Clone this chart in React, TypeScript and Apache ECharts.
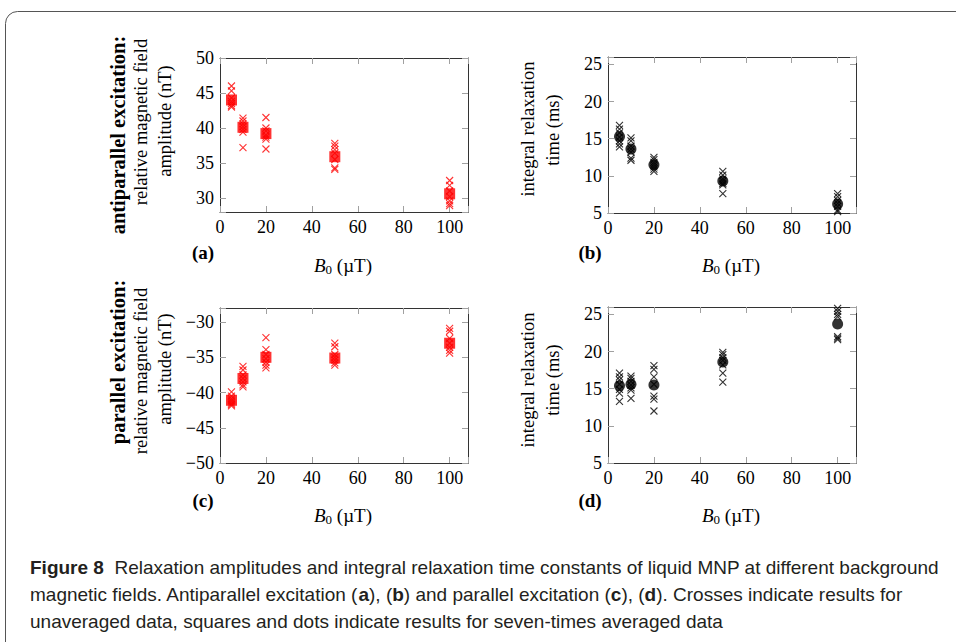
import React, { useEffect, useRef } from "react";
import * as echarts from "echarts";

// ---------------- data ----------------
const B0 = [5, 10, 20, 50, 100];

// (a) antiparallel excitation: amplitude (nT)
const ampAntiAvg = [44.0, 40.1, 39.2, 35.9, 30.6];
const ampAntiRaw = [
  [46.0, 45.3, 44.3, 43.8, 43.5, 43.2, 43.0],
  [41.4, 41.0, 40.6, 40.2, 39.8, 39.4, 37.2],
  [41.5, 40.0, 39.6, 39.0, 38.7, 38.4, 37.0],
  [37.8, 37.4, 36.9, 36.4, 35.5, 34.3, 34.1],
  [32.5, 31.8, 31.0, 30.2, 29.6, 29.2, 28.9],
];

// (b) antiparallel excitation: integral relaxation time (ms)
const tauAntiAvg = [15.3, 13.6, 11.5, 9.3, 6.2];
const tauAntiRaw = [
  [16.8, 16.3, 15.8, 15.2, 14.7, 14.3, 13.9],
  [15.1, 14.7, 14.0, 13.6, 13.2, 12.4, 12.1],
  [12.5, 12.2, 11.8, 11.5, 11.2, 10.9, 10.6],
  [10.6, 10.1, 9.6, 9.3, 9.0, 8.8, 7.6],
  [7.6, 7.2, 6.7, 6.3, 5.9, 5.4, 5.2],
];

// (c) parallel excitation: amplitude (nT)
const ampParAvg = [-41.1, -38.0, -35.0, -35.1, -33.0];
const ampParRaw = [
  [-39.9, -40.5, -40.9, -41.2, -41.5, -41.7, -41.9],
  [-36.3, -36.8, -37.5, -38.0, -38.5, -38.9, -39.2],
  [-32.2, -33.9, -34.6, -35.2, -35.7, -36.1, -36.5],
  [-33.0, -33.5, -34.6, -35.0, -35.4, -35.8, -36.1],
  [-30.9, -31.3, -32.3, -33.0, -33.6, -34.0, -34.4],
];

// (d) parallel excitation: integral relaxation time (ms)
const tauParAvg = [15.4, 15.6, 15.5, 18.6, 23.7];
const tauParRaw = [
  [17.1, 16.6, 16.2, 15.6, 14.9, 14.4, 13.3],
  [16.7, 16.4, 16.0, 15.5, 15.1, 14.8, 13.7],
  [18.1, 17.6, 16.6, 15.6, 14.0, 13.6, 12.0],
  [19.9, 19.6, 19.2, 18.8, 18.2, 17.1, 15.9],
  [25.8, 25.4, 25.0, 24.7, 22.0, 21.8, 21.6],
];

const xRange = [0, 108];
const xStep = 20;
const yRangeA = [28, 50];
const yRangeB = [5, 26];
const yRangeC = [-50, -28];
const yRangeD = [5, 26];
const yStep = 5;

const captionLines = [
  "{b|Figure 8}  Relaxation amplitudes and integral relaxation time constants of liquid MNP at different background",
  "magnetic fields. Antiparallel excitation ({b|a}), ({b|b}) and parallel excitation ({b|c}), ({b|d}). Crosses indicate results for",
  "unaveraged data, squares and dots indicate results for seven-times averaged data",
];

// ---------------- styling ----------------
const SERIF = "'Liberation Serif', 'Times New Roman', serif";
const SANS = "'Liberation Sans', Arial, sans-serif";
const RED = "#ff0000";
const BLACK = "#000000";
const CROSS = "path://M0,0L10,10M10,0L0,10";

const panels = [
  { grid: { left: 220, top: 58, width: 248, height: 154 }, y: yRangeA, raw: ampAntiRaw, avg: ampAntiAvg, color: RED, avgSymbol: "rect", avgSize: 11 },
  { grid: { left: 608, top: 57, width: 248, height: 156 }, y: yRangeB, raw: tauAntiRaw, avg: tauAntiAvg, color: BLACK, avgSymbol: "circle", avgSize: 11 },
  { grid: { left: 220, top: 308, width: 248, height: 155 }, y: yRangeC, raw: ampParRaw, avg: ampParAvg, color: RED, avgSymbol: "rect", avgSize: 11 },
  { grid: { left: 608, top: 307, width: 248, height: 156 }, y: yRangeD, raw: tauParRaw, avg: tauParAvg, color: BLACK, avgSymbol: "circle", avgSize: 11 },
];

const fmtNum = (v: number) => (v < 0 ? "\u2212" + Math.abs(v) : String(v));

function buildOption() {
  const axisLine = { show: true, onZero: false, lineStyle: { color: "#333", width: 1 } };
  const axisTick = { show: true, inside: true, length: 6, lineStyle: { color: "#a0a0a0", width: 1 } };
  const xAxis: any[] = [];
  const yAxis: any[] = [];
  const series: any[] = [];
  panels.forEach((p, i) => {
    const xCommon = {
      gridIndex: i, type: "value", min: xRange[0], max: xRange[1],
      minInterval: xStep, maxInterval: xStep, splitNumber: 5,
      axisLine, axisTick, splitLine: { show: false },
    };
    xAxis.push({
      ...xCommon, position: "bottom",
      axisLabel: {
        margin: 6, fontSize: 18, fontFamily: SERIF, color: "#000",
        formatter: (v: number) => (v % xStep === 0 && v <= 100 ? fmtNum(v) : ""),
      },
    });
    xAxis.push({ ...xCommon, position: "top", axisLabel: { show: false } });
    const yCommon = {
      gridIndex: i, type: "value", min: p.y[0], max: p.y[1],
      minInterval: yStep, maxInterval: yStep, splitNumber: 4,
      axisLine, axisTick, splitLine: { show: false },
    };
    yAxis.push({
      ...yCommon, position: "left",
      axisLabel: {
        margin: 6, fontSize: 18, fontFamily: SERIF, color: "#000",
        formatter: (v: number) => (v % yStep === 0 ? fmtNum(v) : ""),
      },
    });
    yAxis.push({ ...yCommon, position: "right", axisLabel: { show: false } });

    const rawData: number[][] = [];
    p.raw.forEach((vals, k) => vals.forEach((v) => rawData.push([B0[k], v])));
    series.push({
      type: "scatter", xAxisIndex: 2 * i, yAxisIndex: 2 * i,
      data: rawData, symbol: CROSS, symbolSize: 7, silent: true,
      itemStyle: { color: "none", borderColor: p.color, borderWidth: 1.1 },
      z: 2,
    });
    series.push({
      type: "scatter", xAxisIndex: 2 * i, yAxisIndex: 2 * i,
      data: p.avg.map((v, k) => [B0[k], v]), symbol: p.avgSymbol, symbolSize: p.avgSize, silent: true,
      itemStyle: { color: p.color },
      z: 3,
    });
  });

  const vtext = (x: number, y: number, text: string, bold = false) => ({
    type: "text", x, y, rotation: Math.PI / 2, silent: true,
    style: {
      text, fontFamily: SERIF, fontSize: bold ? 20.5 : 18.5, fontWeight: bold ? "bold" : "normal",
      fill: "#000", align: "center", verticalAlign: "middle",
    },
  });
  const htext = (x: number, y: number, text: string, bold = false) => ({
    type: "text", x, y, silent: true,
    style: {
      text, fontFamily: SERIF, fontSize: 19, fontWeight: bold ? "bold" : "normal",
      fill: "#000", align: "center", verticalAlign: "middle",
    },
  });
  const bLabel = (x: number, y: number) => ({
    type: "text", x, y, silent: true,
    style: {
      text: "{i|B}{s|0}{n| (\u00b5T)}", align: "center", verticalAlign: "middle",
      fontFamily: SERIF, fontSize: 19, fill: "#000",
      rich: {
        i: { fontFamily: SERIF, fontSize: 19, fontStyle: "italic", lineHeight: 22, fill: "#000" },
        s: { fontFamily: SERIF, fontSize: 13, lineHeight: 12, verticalAlign: "bottom", fill: "#000" },
        n: { fontFamily: SERIF, fontSize: 19, lineHeight: 22, fill: "#000" },
      },
    },
  });
  const caption = (y: number, text: string) => ({
    type: "text", x: 30, y, silent: true,
    style: {
      text, align: "left", verticalAlign: "middle",
      fontFamily: SANS, fontSize: 19, fill: "#231f20",
      rich: {
        b: { fontFamily: SANS, fontSize: 19, fontWeight: "bold", fill: "#231f20" },
      },
    },
  });

  const graphic: any[] = [
    {
      type: "rect", silent: true, z: -1,
      shape: { x: 5.5, y: 11.5, width: 1000, height: 700, r: 12 },
      style: { fill: "none", stroke: "#555", lineWidth: 1 },
    },
    vtext(118, 135, "antiparallel excitation:", true),
    vtext(141, 122, "relative magnetic field"),
    vtext(165, 121, "amplitude (nT)"),
    htext(203, 252, "(a)", true),
    bLabel(343, 265),
    vtext(528, 129, "integral relaxation"),
    vtext(553, 130, "time (ms)"),
    htext(590, 252, "(b)", true),
    bLabel(731, 265),
    vtext(118, 362, "parallel excitation:", true),
    vtext(141, 371, "relative magnetic field"),
    vtext(165, 369, "amplitude (nT)"),
    htext(203, 500, "(c)", true),
    bLabel(343, 515),
    vtext(528, 380, "integral relaxation"),
    vtext(553, 380, "time (ms)"),
    htext(590, 500, "(d)", true),
    bLabel(731, 515),
    caption(567, captionLines[0]),
    caption(594, captionLines[1]),
    caption(621, captionLines[2]),
  ];

  return {
    animation: false,
    backgroundColor: "#ffffff",
    grid: panels.map((p) => ({ ...p.grid, containLabel: false })),
    xAxis,
    yAxis,
    series,
    graphic,
  };
}

export default function App() {
  const ref = useRef<HTMLDivElement>(null);
  useEffect(() => {
    if (!ref.current) return;
    const chart = echarts.init(ref.current, undefined, { renderer: "svg" });
    chart.setOption(buildOption() as any);
    return () => chart.dispose();
  }, []);
  return (
    <div
      ref={ref}
      style={{ position: "absolute", left: 0, top: 0, width: 956, height: 642, background: "#fff" }}
    />
  );
}
